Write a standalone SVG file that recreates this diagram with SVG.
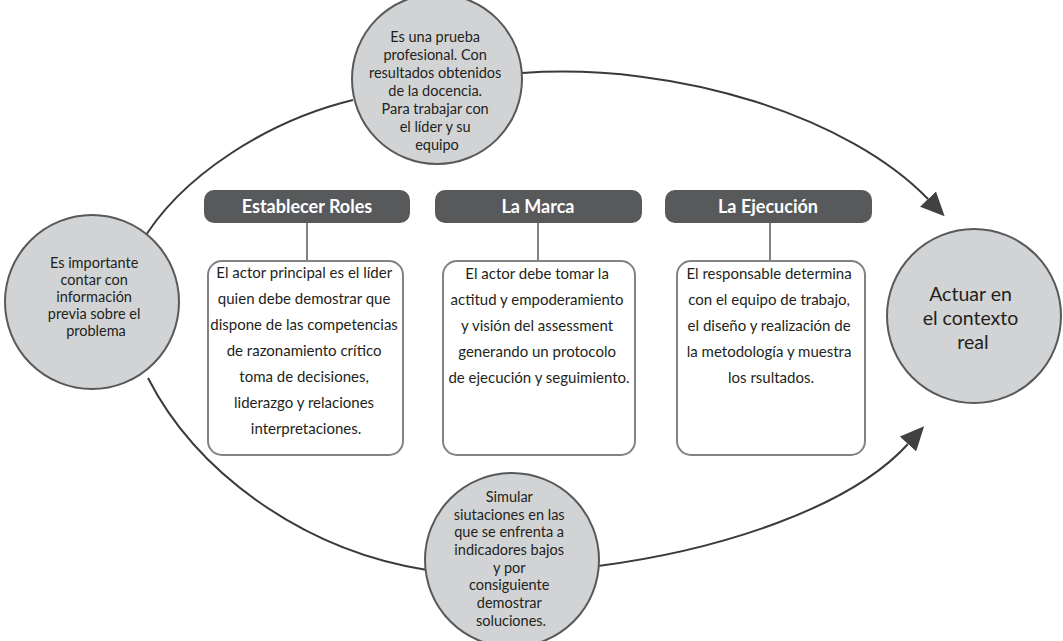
<svg xmlns="http://www.w3.org/2000/svg" width="1063" height="641" viewBox="0 0 1063 641">
  <style>
    .bubble { fill: #d1d3d4; stroke: #58595b; stroke-width: 2; }
    .bubble-text { font-family: Lato, "Open Sans", sans-serif; font-size: 14.5px; fill: #231f20; text-anchor: middle; }
    .goal-text { font-family: Lato, "Open Sans", sans-serif; font-size: 19.5px; fill: #231f20; text-anchor: middle; }
    .header { fill: #58595b; }
    .header-text { font-family: Lato, "Open Sans", sans-serif; font-size: 18px; font-weight: bold; fill: #ffffff; text-anchor: middle; }
    .card { fill: #ffffff; stroke: #808285; stroke-width: 2; }
    .card-text { font-family: Lato, "Open Sans", sans-serif; font-size: 15px; fill: #231f20; text-anchor: middle; }
    .stem { stroke: #808285; stroke-width: 2; fill: none; }
    .flow { stroke: #3a3a3b; stroke-width: 2; fill: none; }
  </style>
  <defs>
    <marker id="arrow" viewBox="0 0 24 22" refX="0" refY="11" markerWidth="24" markerHeight="22" markerUnits="userSpaceOnUse" orient="auto">
      <path d="M0,0 L24,11 L0,22 z" fill="#414042"/>
    </marker>
  </defs>

  <rect width="1063" height="641" fill="#ffffff"/>

  <!-- connectors -->
  <g id="connectors">
    <path class="flow" d="M353,100 C270,120 180,175 140,245"/>
    <path class="flow" d="M148,378 C195,470 300,550 427,570"/>
    <path class="flow" d="M522,73 C680,62 850,118 928,199" marker-end="url(#arrow)"/>
    <path class="flow" d="M598,566 C720,550 850,508 908,444" marker-end="url(#arrow)"/>
    <line class="stem" x1="307" y1="223" x2="307" y2="261"/>
    <line class="stem" x1="538" y1="223" x2="538" y2="261"/>
    <line class="stem" x1="770" y1="223" x2="770" y2="261"/>
  </g>

  <!-- top bubble -->
  <g id="node-prueba">
    <circle class="bubble" cx="437" cy="79" r="85"/>
    <text class="bubble-text">
      <tspan x="437" y="42">Es una prueba</tspan>
      <tspan x="437" y="60">profesional. Con</tspan>
      <tspan x="437" y="78">resultados obtenidos</tspan>
      <tspan x="437" y="96">de la docencia.</tspan>
      <tspan x="437" y="114">Para trabajar con</tspan>
      <tspan x="437" y="132">el líder y su</tspan>
      <tspan x="437" y="150">equipo</tspan>
    </text>
  </g>

  <!-- left bubble -->
  <g id="node-informacion">
    <circle class="bubble" cx="92" cy="302" r="87"/>
    <text class="bubble-text">
      <tspan x="96" y="268">Es importante</tspan>
      <tspan x="96" y="285">contar con</tspan>
      <tspan x="96" y="302">información</tspan>
      <tspan x="96" y="319">previa sobre el</tspan>
      <tspan x="96" y="336">problema</tspan>
    </text>
  </g>

  <!-- bottom bubble -->
  <g id="node-simular">
    <circle class="bubble" cx="512" cy="560" r="87"/>
    <text class="bubble-text">
      <tspan x="511" y="502">Simular</tspan>
      <tspan x="511" y="520">siutaciones en las</tspan>
      <tspan x="511" y="537">que se enfrenta a</tspan>
      <tspan x="511" y="555">indicadores bajos</tspan>
      <tspan x="511" y="573">y por</tspan>
      <tspan x="511" y="590">consiguiente</tspan>
      <tspan x="511" y="608">demostrar</tspan>
      <tspan x="511" y="626">soluciones.</tspan>
    </text>
  </g>

  <!-- goal bubble -->
  <g id="node-actuar">
    <circle class="bubble" cx="974" cy="316" r="87"/>
    <text class="goal-text">
      <tspan x="973" y="301">Actuar en</tspan>
      <tspan x="973" y="325">el contexto</tspan>
      <tspan x="973" y="349">real</tspan>
    </text>
  </g>

  <!-- column 1 -->
  <g id="node-roles">
    <rect class="header" x="204" y="190" width="206" height="33" rx="10"/>
    <text class="header-text" x="307" y="213">Establecer Roles</text>
  </g>
  <g id="node-roles-detail">
    <rect class="card" x="208" y="261" width="195" height="194" rx="14"/>
    <text class="card-text">
      <tspan x="306" y="278">El actor principal es el líder</tspan>
      <tspan x="306" y="304">quien debe demostrar que</tspan>
      <tspan x="306" y="330">dispone de las competencias</tspan>
      <tspan x="306" y="356">de razonamiento crítico</tspan>
      <tspan x="306" y="382">toma de decisiones,</tspan>
      <tspan x="306" y="408">liderazgo y relaciones</tspan>
      <tspan x="306" y="434">interpretaciones.</tspan>
    </text>
  </g>

  <!-- column 2 -->
  <g id="node-marca">
    <rect class="header" x="435" y="190" width="207" height="33" rx="10"/>
    <text class="header-text" x="538" y="213">La Marca</text>
  </g>
  <g id="node-marca-detail">
    <rect class="card" x="443" y="261" width="192" height="194" rx="14"/>
    <text class="card-text">
      <tspan x="539" y="279">El actor debe tomar la</tspan>
      <tspan x="539" y="305">actitud y empoderamiento</tspan>
      <tspan x="539" y="331">y visión del assessment</tspan>
      <tspan x="539" y="357">generando un protocolo</tspan>
      <tspan x="539" y="383">de ejecución y seguimiento.</tspan>
    </text>
  </g>

  <!-- column 3 -->
  <g id="node-ejecucion">
    <rect class="header" x="665" y="190" width="207" height="33" rx="10"/>
    <text class="header-text" x="768" y="213">La Ejecución</text>
  </g>
  <g id="node-ejecucion-detail">
    <rect class="card" x="677" y="261" width="188" height="194" rx="14"/>
    <text class="card-text">
      <tspan x="771" y="279">El responsable determina</tspan>
      <tspan x="771" y="305">con el equipo de trabajo,</tspan>
      <tspan x="771" y="331">el diseño y realización de</tspan>
      <tspan x="771" y="357">la metodología y muestra</tspan>
      <tspan x="771" y="383">los rsultados.</tspan>
    </text>
  </g>
</svg>
